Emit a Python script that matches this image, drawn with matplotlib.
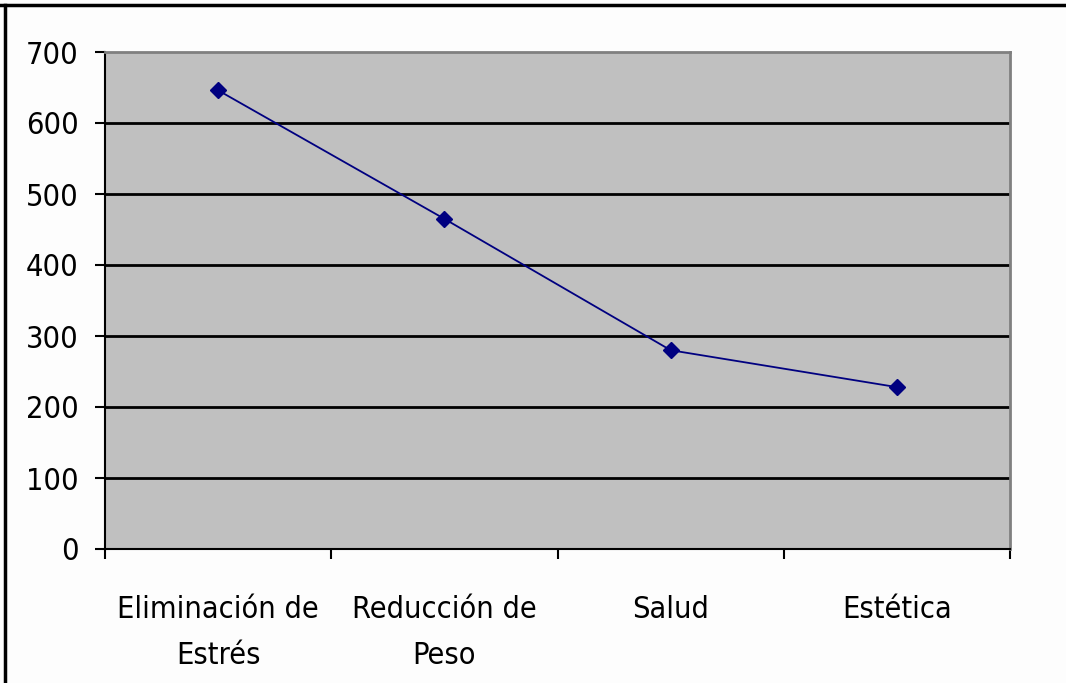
import matplotlib
matplotlib.use("Agg")
import matplotlib.pyplot as plt
from matplotlib.lines import Line2D
from matplotlib.ticker import FixedLocator

categories = ["Eliminación de\nEstrés", "Reducción de\nPeso", "Salud", "Estética"]
values = [646, 465, 280, 228]
yticks = [0, 100, 200, 300, 400, 500, 600, 700]

plt.rcParams['font.family'] = ['DejaVu Sans']
plt.rcParams['font.stretch'] = 'condensed'

W, H = 1066, 683
fig = plt.figure(figsize=(W / 100, H / 100), dpi=100, facecolor='#fdfdfd')
ax = fig.add_axes([105 / W, 1 - 549 / H, (1010 - 105) / W, (549 - 52) / H])
ax.set_facecolor('#c0c0c0')

x = list(range(len(categories)))
ax.plot(x, values, color='#000080', linewidth=1.3, marker='D', markersize=8,
        markerfacecolor='#000080', markeredgecolor='#000080', zorder=5)

ax.set_xlim(-0.5, len(categories) - 0.5)
ax.set_ylim(0, 700)
ax.set_yticks(yticks)
ax.set_yticklabels([str(v) for v in yticks])
for v in yticks[1:-1]:
    ax.axhline(v, color='black', linewidth=2, zorder=2)

ax.set_xticks(x)
ax.set_xticklabels(categories, linespacing=1.75)
ax.xaxis.set_minor_locator(FixedLocator([i - 0.5 for i in range(len(categories) + 1)]))
ax.tick_params(axis='x', which='major', length=0, pad=33, labelsize=22)
ax.tick_params(axis='x', which='minor', length=7, width=1.5, color='black')
ax.tick_params(axis='y', which='major', length=7, width=1.5, color='black', pad=12, labelsize=22)

for s in ['left', 'bottom']:
    ax.spines[s].set_color('black')
    ax.spines[s].set_linewidth(1.5)
for s in ['top', 'right']:
    ax.spines[s].set_color('#808080')
    ax.spines[s].set_linewidth(2)

fig.add_artist(Line2D([0, 1], [1 - 5 / H, 1 - 5 / H], transform=fig.transFigure, color='black', linewidth=2.5))
fig.add_artist(Line2D([5 / W, 5 / W], [0, 1 - 5 / H], transform=fig.transFigure, color='black', linewidth=2.5))

fig.savefig("out.png", dpi=100, facecolor=fig.get_facecolor())
